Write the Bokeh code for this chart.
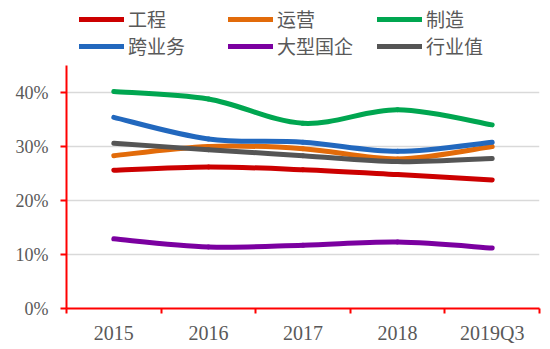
from bokeh.plotting import figure
from bokeh.models import Range1d, FixedTicker, Legend, LegendItem, PrintfTickFormatter
from bokeh.embed import file_html
from bokeh.resources import INLINE

categories = ["2015", "2016", "2017", "2018", "2019Q3"]
gongcheng = [25.6, 26.2, 25.7, 24.8, 23.8]
yunying = [28.3, 30.0, 29.6, 27.7, 30.0]
zhizao = [40.2, 38.8, 34.3, 36.8, 34.0]
kuayewu = [35.4, 31.4, 30.8, 29.1, 30.8]
daxing = [12.9, 11.4, 11.7, 12.3, 11.2]
hangye = [30.6, 29.4, 28.3, 27.2, 27.8]
y_ticks = [0, 10, 20, 30, 40]

series = [
    ("工程", gongcheng, "#CC0000"),
    ("运营", yunying, "#E26B0A"),
    ("制造", zhizao, "#00A650"),
    ("跨业务", kuayewu, "#2268BE"),
    ("大型国企", daxing, "#7B00A0"),
    ("行业值", hangye, "#555555"),
]

n = len(categories)
xs = [i + 0.5 for i in range(n)]

# frame spans the full top of the canvas; the axis line is bounded to 0-45 %
p = figure(width=550, height=349, output_backend="svg", toolbar_location=None,
           x_range=Range1d(0, n), y_range=Range1d(0, 308 / 5.4),
           min_border_left=66, min_border_right=11, min_border_bottom=41, min_border_top=0)
p.outline_line_color = None
p.background_fill_color = "white"
p.border_fill_color = "white"

items = []
t = 1.0 / 6.0
for name, vals, color in series:
    x0, y0, x1, y1, cx0, cy0, cx1, cy1 = [], [], [], [], [], [], [], []
    for i in range(n - 1):
        im1 = max(i - 1, 0)
        ip2 = min(i + 2, n - 1)
        x0.append(xs[i]); y0.append(vals[i])
        x1.append(xs[i + 1]); y1.append(vals[i + 1])
        cx0.append(xs[i] + t * (xs[i + 1] - xs[im1]))
        cy0.append(vals[i] + t * (vals[i + 1] - vals[im1]))
        cx1.append(xs[i + 1] - t * (xs[ip2] - xs[i]))
        cy1.append(vals[i + 1] - t * (vals[ip2] - vals[i]))
    r = p.bezier(x0=x0, y0=y0, x1=x1, y1=y1, cx0=cx0, cy0=cy0, cx1=cx1, cy1=cy1,
                 line_color=color, line_width=5, line_cap="round")
    items.append(LegendItem(label=name, renderers=[r]))

# axes
p.xaxis.ticker = FixedTicker(ticks=xs, minor_ticks=list(range(n + 1)))
p.xaxis.major_label_overrides = {x: c for x, c in zip(xs, categories)}
p.xaxis.major_tick_out = 0
p.xaxis.major_tick_in = 0
p.xaxis.minor_tick_out = 5
p.xaxis.minor_tick_in = 0
p.xaxis.minor_tick_line_color = "#FF0000"
p.xaxis.minor_tick_line_width = 2
p.xaxis.axis_line_color = "#FF0000"
p.xaxis.axis_line_width = 2
p.xaxis.major_label_text_font = "Liberation Serif"
p.xaxis.major_label_text_font_size = "20px"
p.xaxis.major_label_text_color = "#595959"
p.xaxis.major_label_standoff = 8

p.yaxis.bounds = (0, 45)
p.yaxis.ticker = FixedTicker(ticks=y_ticks, minor_ticks=[])
p.yaxis.formatter = PrintfTickFormatter(format="%d%%")
p.yaxis.major_tick_out = 6
p.yaxis.major_tick_in = 0
p.yaxis.major_tick_line_color = "#FF0000"
p.yaxis.major_tick_line_width = 2
p.yaxis.axis_line_color = "#FF0000"
p.yaxis.axis_line_width = 2
p.yaxis.major_label_text_font = "Liberation Serif"
p.yaxis.major_label_text_font_size = "18px"
p.yaxis.major_label_text_color = "#595959"
p.yaxis.major_label_standoff = 12

p.xgrid.grid_line_color = None
p.ygrid.ticker = FixedTicker(ticks=y_ticks)
p.ygrid.grid_line_color = "#D9D9D9"
p.ygrid.grid_line_width = 1.5

legend = Legend(items=items, orientation="horizontal", ncols=3,
                location=(13, 249), padding=0, margin=0, spacing=-15,
                glyph_width=45, glyph_height=20, label_width=100, label_height=20,
                label_standoff=4, border_line_color=None, background_fill_alpha=0,
                label_text_font="Noto Sans CJK SC", label_text_font_size="19px",
                label_text_color="#595959")
p.add_layout(legend, "center")

open("out.html", "w").write(file_html(p, INLINE))
